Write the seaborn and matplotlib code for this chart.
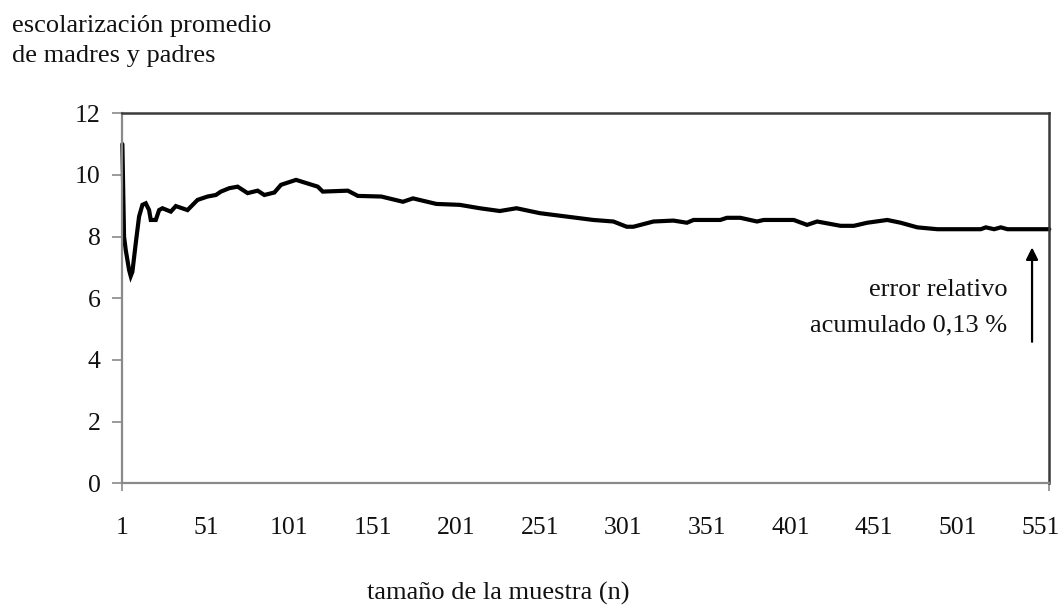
import matplotlib
matplotlib.use("Agg")
import matplotlib.pyplot as plt
import seaborn as sns
import pandas as pd

# Data (running mean of parents' schooling vs sample size)
sample_n = [1, 2, 3, 5, 6, 7, 9, 11, 13, 15, 17, 18, 21, 23, 25, 30, 33, 40, 46, 52,
            57, 60, 65, 70, 76, 82, 86, 92, 96, 105, 118, 121, 136, 142, 156, 169,
            175, 189, 203, 215, 227, 237, 251, 267, 283, 295, 303, 307, 319, 331,
            339, 343, 359, 363, 371, 381, 385, 403, 411, 417, 431, 439, 447, 459,
            467, 477, 489, 515, 518, 523, 527, 531, 556]
mean_school = [11.0, 8.0, 7.57, 6.92, 6.72, 6.86, 7.78, 8.65, 9.03, 9.08, 8.86, 8.54,
               8.54, 8.86, 8.92, 8.81, 8.99, 8.86, 9.19, 9.30, 9.35, 9.46, 9.57, 9.62,
               9.41, 9.49, 9.35, 9.43, 9.68, 9.84, 9.62, 9.46, 9.49, 9.32, 9.30, 9.13,
               9.24, 9.06, 9.03, 8.92, 8.83, 8.92, 8.76, 8.65, 8.54, 8.49, 8.32, 8.32,
               8.49, 8.52, 8.45, 8.54, 8.54, 8.61, 8.61, 8.49, 8.54, 8.54, 8.38, 8.49,
               8.35, 8.35, 8.45, 8.54, 8.45, 8.30, 8.24, 8.24, 8.30, 8.24, 8.30, 8.24,
               8.24]
x_ticks = [1, 51, 101, 151, 201, 251, 301, 351, 401, 451, 501, 551]
y_ticks = [0, 2, 4, 6, 8, 10, 12]

df = pd.DataFrame({"n": sample_n, "media": mean_school})

sns.set_theme(style="white")
plt.rcParams["font.family"] = ["Liberation Serif", "DejaVu Serif"]

fig = plt.figure(figsize=(10.62, 6.08), dpi=100)
ax = fig.add_axes([0.1146, 0.2051, 0.988 - 0.1146, 0.8137 - 0.2051])

sns.lineplot(data=df, x="n", y="media", ax=ax, color="black", linewidth=3.0)
for ln in ax.get_lines():
    ln.set_clip_on(False)
    ln.set_solid_joinstyle("miter")

ax.set_xlim(0.6, 556)
ax.set_ylim(0, 12)
ax.set_xticks(x_ticks)
ax.set_xticklabels([str(t) for t in x_ticks])
ax.set_yticks(y_ticks)
ax.set_yticklabels([str(t) for t in y_ticks])
ax.set_xlabel("")
ax.set_ylabel("")

ax.tick_params(axis="y", which="major", direction="out", length=7, width=1.2,
               color="#8a8a8a", labelsize=18.5, pad=8, left=True, labelcolor="#111111")
ax.tick_params(axis="x", which="major", length=0, labelsize=18.5, pad=24,
               labelcolor="#111111")
ax.set_xticks([0.6, 556], minor=True)
ax.tick_params(axis="x", which="minor", direction="out", length=6, width=1.2,
               color="#8a8a8a", bottom=True)

for side in ["left", "bottom"]:
    ax.spines[side].set_color("#8a8a8a")
    ax.spines[side].set_linewidth(1.6)
for side in ["top", "right"]:
    ax.spines[side].set_color("#3a3a3a")
    ax.spines[side].set_linewidth(1.8)

# Axis titles
fig.text(12 / 1062, 1 - 26 / 608, "escolarización promedio", fontsize=19,
         ha="left", va="center", color="#111111")
fig.text(12 / 1062, 1 - 56 / 608, "de madres y padres", fontsize=19,
         ha="left", va="center", color="#111111")
fig.text(498 / 1062, 1 - 593 / 608, "tamaño de la muestra (n)", fontsize=19,
         ha="center", va="center", color="#111111")

# Annotation
ax.text(531, 6.27, "error relativo", fontsize=19, ha="right", va="center", color="#111111")
ax.text(531, 5.13, "acumulado 0,13 %", fontsize=19, ha="right", va="center", color="#111111")
ax.annotate("", xy=(545.7, 7.65), xytext=(545.7, 4.59),
            arrowprops=dict(arrowstyle="-|>", color="black", lw=1.6,
                            mutation_scale=18, shrinkA=0, shrinkB=0))

fig.savefig("out.png", dpi=100, facecolor="white")
